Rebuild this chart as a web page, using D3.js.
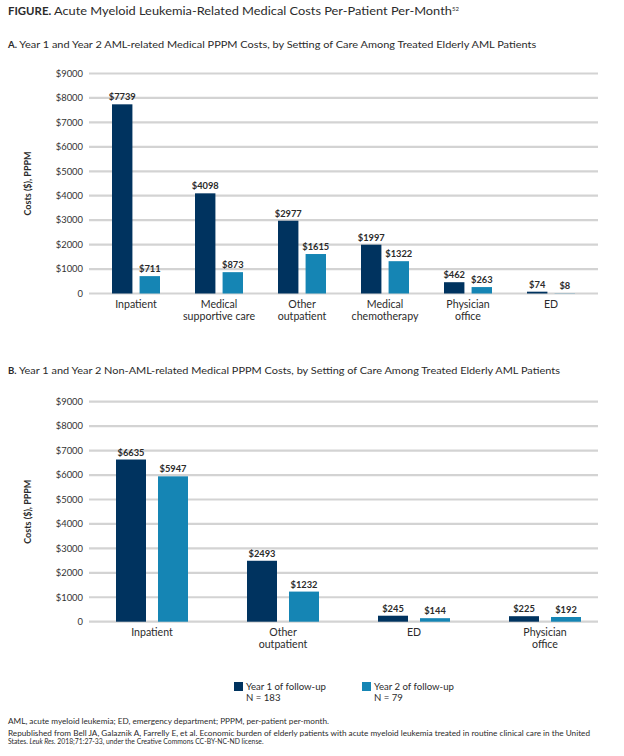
<!DOCTYPE html>
<html><head><meta charset="utf-8">
<script src="https://cdn.jsdelivr.net/npm/d3@7"></script>
<style>
body{margin:0;background:#fff;}
svg text{font-family:Lato,"Noto Sans",sans-serif;}
</style></head>
<body>
<svg id="c" width="624" height="756"></svg>
<script>
const catsA = ["Inpatient","Medical|supportive care","Other|outpatient","Medical|chemotherapy","Physician|office","ED"];
const year1A = [7739,4098,2977,1997,462,74];
const year2A = [711,873,1615,1322,263,8];
const catsB = ["Inpatient","Other|outpatient","ED","Physician|office"];
const year1B = [6635,2493,245,225];
const year2B = [5947,1232,144,192];
const yTicks = [0,1000,2000,3000,4000,5000,6000,7000,8000,9000];
const seriesNames = ["Year 1 of follow-up","Year 2 of follow-up"];
const seriesN = ["N = 183","N = 79"];
const colors = ["#00335f","#1585b4"];

const svg = d3.select("#c");
const ink = "#2b2b2b";

// Title
const t = svg.append("text").attr("x",8).attr("y",15).attr("font-size",11.4).attr("fill",ink);
t.append("tspan").attr("font-weight",700).text("FIGURE. ");
t.append("tspan").attr("textLength",398).attr("lengthAdjust","spacingAndGlyphs").text("Acute Myeloid Leukemia-Related Medical Costs Per-Patient Per-Month");
t.append("tspan").attr("font-size",6).attr("dy",-4).text("52");

function subtitle(y, letter, txt, len){
  const s = svg.append("text").attr("x",8).attr("y",y).attr("font-size",9.6).attr("fill",ink);
  s.append("tspan").attr("font-weight",700).text(letter+" ");
  s.append("tspan").attr("textLength",len).attr("lengthAdjust","spacingAndGlyphs").text(txt);
}
subtitle(48,"A.","Year 1 and Year 2 AML-related Medical PPPM Costs, by Setting of Care Among Treated Elderly AML Patients", 517);
subtitle(374,"B.","Year 1 and Year 2 Non-AML-related Medical PPPM Costs, by Setting of Care Among Treated Elderly AML Patients", 541);

function panel(cats, v1, v2, yTop, yBot, xr, pInner, subPad){
  const y = d3.scaleLinear().domain([0,9000]).range([yBot,yTop]);
  const g = svg.append("g");
  g.selectAll("line.grid").data(yTicks).join("line")
    .attr("x1",89).attr("x2",598)
    .attr("y1",d=>y(d)).attr("y2",d=>y(d))
    .attr("stroke","#d3d3d3").attr("stroke-width",2.2);
  g.selectAll("text.yt").data(yTicks).join("text")
    .attr("x",83).attr("y",d=>y(d)+3.3)
    .attr("text-anchor","end").attr("font-size",9.4).attr("fill","#333")
    .text(d=>d===0?"0":"$"+d);
  g.append("text").attr("transform",`translate(31,${(yTop+yBot)/2}) rotate(-90)`)
    .attr("text-anchor","middle").attr("font-size",9).attr("font-weight",700).attr("fill",ink)
    .text("Costs ($), PPPM");
  const x0 = d3.scaleBand().domain(cats).range(xr).paddingInner(pInner).paddingOuter(pInner/2);
  const x1 = d3.scaleBand().domain([0,1]).range([0,x0.bandwidth()]).paddingInner(subPad);
  const data = cats.map((c,i)=>({c, vals:[v1[i],v2[i]]}));
  const grp = g.selectAll("g.grp").data(data).join("g").attr("transform",d=>`translate(${x0(d.c)},0)`);
  grp.selectAll("rect").data(d=>d.vals.map((v,k)=>({v,k}))).join("rect")
    .attr("x",d=>x1(d.k)).attr("width",x1.bandwidth())
    .attr("y",d=>y(d.v)).attr("height",d=>yBot-y(d.v))
    .attr("fill",d=>colors[d.k]);
  grp.selectAll("text.val").data(d=>d.vals.map((v,k)=>({v,k}))).join("text")
    .attr("x",d=>x1(d.k)+x1.bandwidth()/2).attr("y",d=>y(d.v)-4)
    .attr("text-anchor","middle").attr("font-size",9.3).attr("font-weight",700).attr("fill",ink)
    .text(d=>"$"+d.v);
  grp.each(function(d){
    const lines = d.c.split("|");
    const tx = d3.select(this).append("text").attr("text-anchor","middle").attr("font-size",10.6).attr("fill",ink);
    lines.forEach((l,i)=>tx.append("tspan").attr("x",x0.bandwidth()/2).attr("y",yBot+14+i*12).text(l));
  });
}
panel(catsA, year1A, year2A, 73.5, 293.5, [94.5,592.5], 35/83, 0.26);
panel(catsB, year1B, year2B, 401.7, 621.7, [86.5,610.5], 59/131, 0.2857);

const lx = [234,362];
seriesNames.forEach((n,i)=>{
  svg.append("rect").attr("x",lx[i]).attr("y",682).attr("width",9).attr("height",9).attr("fill",colors[i]);
  svg.append("text").attr("x",lx[i]+12).attr("y",690).attr("font-size",9.6).attr("fill",ink).text(n);
  svg.append("text").attr("x",lx[i]+12).attr("y",701).attr("font-size",9.6).attr("fill",ink).text(seriesN[i]);
});

svg.append("text").attr("x",8).attr("y",724).attr("font-size",7).attr("fill",ink)
  .attr("textLength",321).attr("lengthAdjust","spacingAndGlyphs")
  .text("AML, acute myeloid leukemia; ED, emergency department; PPPM, per-patient per-month.");
svg.append("text").attr("x",8).attr("y",736).attr("font-size",6.8).attr("fill",ink)
  .attr("textLength",582).attr("lengthAdjust","spacingAndGlyphs")
  .text("Republished from Bell JA, Galaznik A, Farrelly E, et al. Economic burden of elderly patients with acute myeloid leukemia treated in routine clinical care in the United");
const f3 = svg.append("text").attr("x",8).attr("y",743.5).attr("font-size",6.8).attr("fill",ink);
f3.append("tspan").text("States. ");
f3.append("tspan").attr("font-style","italic").text("Leuk Res.");
f3.append("tspan").text(" 2018;71:27-33, under the Creative Commons CC-BY-NC-ND license.");
</script>
</body></html>
